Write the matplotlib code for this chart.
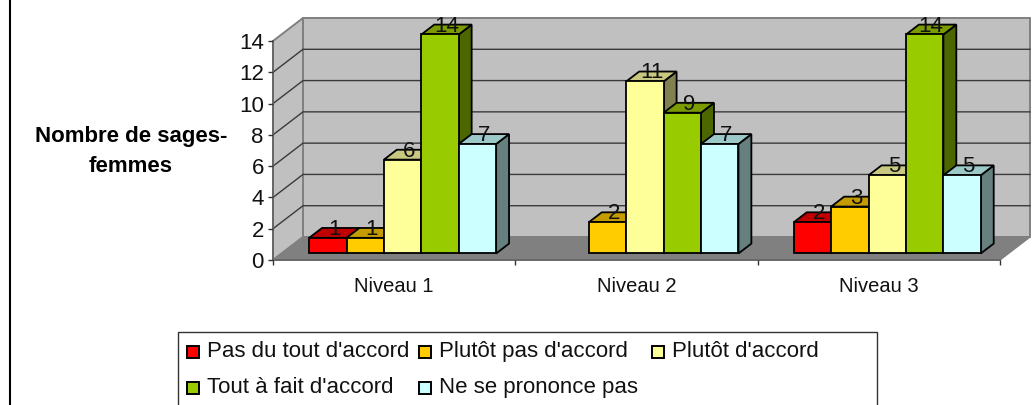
import matplotlib
matplotlib.use('Agg')
import matplotlib.pyplot as plt
from matplotlib.lines import Line2D
from matplotlib.patches import Polygon, Rectangle
from matplotlib.transforms import Affine2D

plt.rcParams['font.family'] = ['Liberation Sans', 'DejaVu Sans']

levels = ['Niveau 1', 'Niveau 2', 'Niveau 3']
answers = ["Pas du tout d'accord", "Plutôt pas d'accord", "Plutôt d'accord",
           "Tout à fait d'accord", "Ne se prononce pas"]
pas_du_tout = [1, 0, 2]
plutot_pas = [1, 2, 3]
plutot = [6, 11, 5]
tout_a_fait = [14, 9, 14]
ne_se_prononce = [7, 7, 5]
series = [pas_du_tout, plutot_pas, plutot, tout_a_fait, ne_se_prononce]
y_ticks = [0, 2, 4, 6, 8, 10, 12, 14]

front_colors = ['#FF0000', '#FFCC00', '#FFFF99', '#99CC00', '#CCFFFF']
top_colors = ['#C00000', '#C49C00', '#C8C880', '#7A9C00', '#9CC8C8']
side_colors = ['#800000', '#806600', '#808050', '#4C6600', '#668080']

W, H = 1032, 405
fig = plt.figure(figsize=(W / 100, H / 100), dpi=100)
# front plane of the fake 3d box
ax = fig.add_axes([273 / W, 1 - 260 / H, (1000 - 273) / W, (260 - 41) / H])
ax.set_xlim(0, 3)
ax.set_ylim(0, 14)
ax.patch.set_visible(False)

# depth vector of the box, in data units
dx = 30 / 242.33
dy = 1.47
bar_w = 0.1543
gap = (1 - 5 * bar_w) / 2
bar_front = 0.283
bar_depth = 0.43

# walls and floor
ax.add_patch(Polygon([(dx, dy), (3 + dx, dy), (3 + dx, 14 + dy), (dx, 14 + dy)],
                     fc='#C0C0C0', ec='#808080', lw=1.4, clip_on=False, zorder=0))
ax.add_patch(Polygon([(0, 0), (dx, dy), (dx, 14 + dy), (0, 14)],
                     fc='#C0C0C0', ec='#808080', lw=1.4, clip_on=False, zorder=0))
ax.add_patch(Polygon([(0, 0), (3, 0), (3 + dx, dy), (dx, dy)],
                     fc='#808080', ec='#808080', lw=1, clip_on=False, zorder=0.5))
for v in y_ticks[1:-1]:
    ax.plot([0, dx, 3 + dx], [v, v + dy, v + dy], color='#3A3A3A', lw=1.0,
            clip_on=False, zorder=0.4)

# bars, left to right so that each one hides the side of the previous
z = 2
ox = dx * bar_front
oy = dy * bar_front
ddx = dx * bar_depth
ddy = dy * bar_depth
for g in range(len(levels)):
    for j, values in enumerate(series):
        v = values[g]
        if v == 0:
            continue
        x = g + gap + j * bar_w + ox
        top = oy + v
        ax.add_patch(Polygon([(x + bar_w, oy), (x + bar_w + ddx, oy + ddy),
                              (x + bar_w + ddx, top + ddy), (x + bar_w, top)],
                             fc=side_colors[j], ec='black', lw=1.3, clip_on=False, zorder=z))
        ax.add_patch(Polygon([(x, top), (x + bar_w, top),
                              (x + bar_w + ddx, top + ddy), (x + ddx, top + ddy)],
                             fc=top_colors[j], ec='black', lw=1.3, clip_on=False, zorder=z))
        ax.bar(x, v, bar_w, bottom=oy, align='edge', color=front_colors[j],
               edgecolor='black', linewidth=1.3, clip_on=False, zorder=z)
        z += 1

for g in range(len(levels)):
    for j, values in enumerate(series):
        if values[g] == 0:
            continue
        x = g + gap + j * bar_w + ox
        ax.text(x + bar_w / 2 + ddx / 2, oy + values[g] + 0.19, str(values[g]),
                ha='center', va='baseline', fontsize=16, color='#111111', zorder=50)

# axes
for s in ['top', 'right']:
    ax.spines[s].set_visible(False)
for s in ['left', 'bottom']:
    ax.spines[s].set_color('#666666')
    ax.spines[s].set_linewidth(1.3)
    ax.spines[s].set_zorder(1)
ax.set_yticks(y_ticks)
ax.tick_params(axis='y', labelsize=16, length=3.6, width=1, color='#333333', pad=3, labelcolor='#111111')
ax.set_xticks(range(len(levels) + 1))
ax.set_xticklabels([])
ax.tick_params(axis='x', which='major', length=3.6, width=1, color='#333333')
ax.set_xticks([g + 0.5 for g in range(len(levels))], labels=levels, minor=True)
ax.tick_params(axis='x', which='minor', length=0, labelsize=14.5, pad=12, labelcolor='#111111')

ax.set_ylabel('Nombre de sages-\nfemmes', rotation=0, fontsize=16, fontweight='bold',
              ha='center', va='center', linespacing=1.62)
ax.yaxis.set_label_coords((131 - 273) / (1000 - 273), (260 - 151.5) / (260 - 41))

# legend, in picture pixels (excel keeps even column widths)
px = Affine2D().scale(1 / W, -1 / H).translate(0, 1) + fig.transFigure
fig.add_artist(Rectangle((178, 332), 699, 90, fc='white', ec='#333333', lw=1, transform=px))
col_x = [187, 419, 652, 187, 419]
row_y = [358, 358, 358, 394, 394]
for name, c, lx, ly in zip(answers, front_colors, col_x, row_y):
    fig.add_artist(Rectangle((lx, ly - 12), 12, 12, fc=c, ec='black', lw=1.4, transform=px))
    fig.text(lx + 20, ly - 1, name, fontsize=16, va='baseline', ha='left',
             color='#111111', transform=px)

# page margin line
fig.add_artist(Line2D([9.5, 9.5], [0, H], color='black', lw=1.5, transform=px))

fig.savefig('out.png', dpi=100)
